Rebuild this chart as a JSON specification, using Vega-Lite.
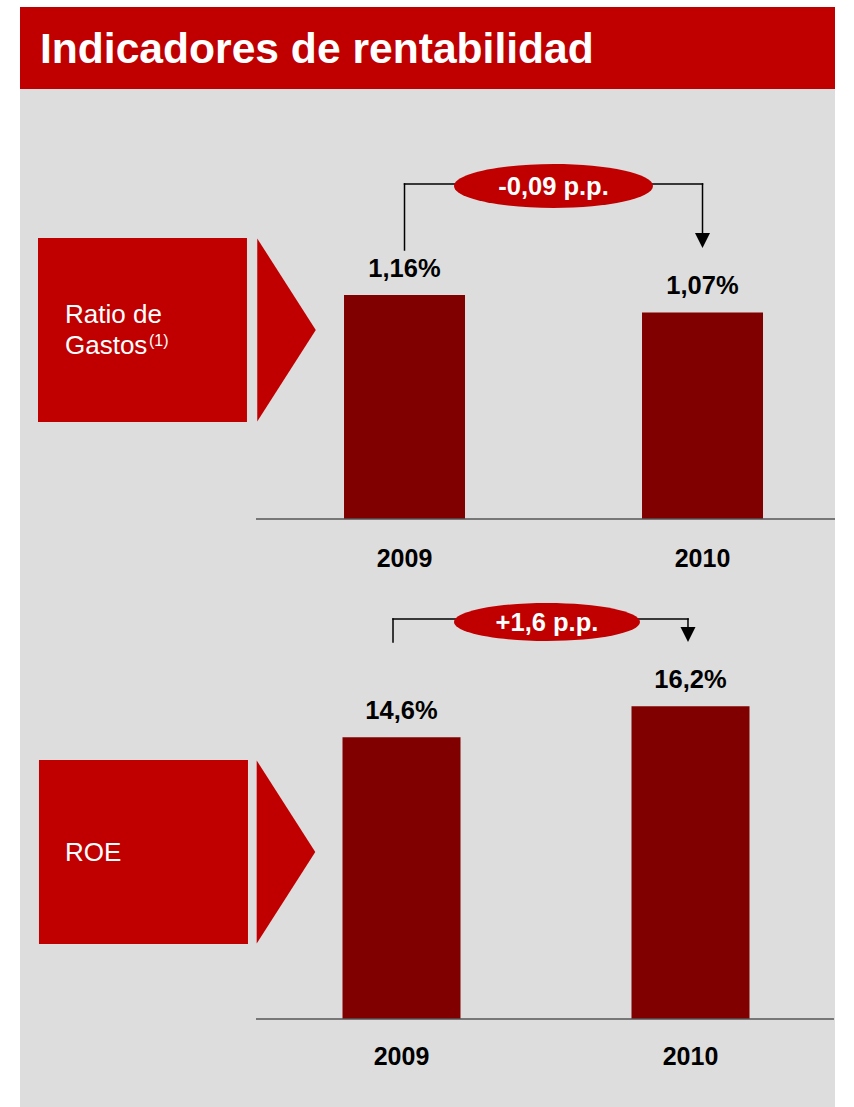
{
  "$schema": "https://vega.github.io/schema/vega-lite/v6.json",
  "background": "white",
  "padding": {"left": 20, "top": 7, "right": 19, "bottom": 0},
  "spacing": 0,
  "bounds": "flush",
  "config": {"view": {"stroke": null}, "font": "Liberation Sans", "text": {"font": "Liberation Sans"}, "scale": {"continuousPadding": 0}},
  "vconcat": [
    {
      "width": 815, "height": 82,
      "view": {"fill": "#c00000", "stroke": null},
      "data": {"values": [{"titulo": "Indicadores de rentabilidad"}]},
      "mark": {"type": "text", "align": "left", "baseline": "alphabetic", "fontSize": 42.6, "fontWeight": "bold", "color": "white"},
      "encoding": {
        "text": {"field": "titulo"},
        "x": {"datum": 0.0245, "type": "quantitative", "scale": {"domain": [0, 1], "nice": false, "zero": false}, "axis": null},
        "y": {"datum": 0.317, "type": "quantitative", "scale": {"domain": [0, 1], "nice": false, "zero": false}, "axis": null}
      }
    },
    {
      "width": 815, "height": 501,
      "view": {"fill": "#dddddd", "stroke": null},
      "data": {"values": [
        {"anio": 2009, "valor": 1.16, "texto": "1,16%"},
        {"anio": 2010, "valor": 1.07, "texto": "1,07%"}
      ]},
      "layer": [
        {
          "data": {"values": [{}]},
          "mark": {"type": "rect", "color": "#c00000"},
          "encoding": {
            "x": {"datum": 2007.7701, "type": "quantitative", "scale": {"domain": [2007.7097, 2010.4446], "nice": false, "zero": false, "padding": 0}, "axis": null},
            "x2": {"datum": 2008.4714},
            "y": {"datum": 1.456, "type": "quantitative", "scale": {"domain": [-0.3679, 2.228], "nice": false, "zero": false, "padding": 0}, "axis": null},
            "y2": {"datum": 0.5026}
          }
        },
        {
          "data": {"values": [{"linea": "Ratio de"}]},
          "mark": {"type": "text", "align": "left", "baseline": "alphabetic", "fontSize": 26, "color": "white"},
          "encoding": {
            "text": {"field": "linea"},
            "x": {"datum": 2007.8607, "type": "quantitative", "scale": {"domain": [2007.7097, 2010.4446], "nice": false, "zero": false, "padding": 0}, "axis": null},
            "y": {"datum": 1.0155, "type": "quantitative", "scale": {"domain": [-0.3679, 2.228], "nice": false, "zero": false, "padding": 0}, "axis": null}
          }
        },
        {
          "data": {"values": [{"linea": "Gastos"}]},
          "mark": {"type": "text", "align": "left", "baseline": "alphabetic", "fontSize": 26, "color": "white"},
          "encoding": {
            "text": {"field": "linea"},
            "x": {"datum": 2007.8607, "type": "quantitative", "scale": {"domain": [2007.7097, 2010.4446], "nice": false, "zero": false, "padding": 0}, "axis": null},
            "y": {"datum": 0.855, "type": "quantitative", "scale": {"domain": [-0.3679, 2.228], "nice": false, "zero": false, "padding": 0}, "axis": null}
          }
        },
        {
          "data": {"values": [{"nota": "(1)"}]},
          "mark": {"type": "text", "align": "left", "baseline": "alphabetic", "fontSize": 16, "color": "white"},
          "encoding": {
            "text": {"field": "nota"},
            "x": {"datum": 2008.1426, "type": "quantitative", "scale": {"domain": [2007.7097, 2010.4446], "nice": false, "zero": false, "padding": 0}, "axis": null},
            "y": {"datum": 0.8964, "type": "quantitative", "scale": {"domain": [-0.3679, 2.228], "nice": false, "zero": false, "padding": 0}, "axis": null}
          }
        },
        {
          "data": {"values": [{}]},
          "mark": {"type": "point", "shape": "M-0.32,-1L0.32,0L-0.32,1Z", "size": 33489, "filled": true, "color": "#c00000", "opacity": 1, "strokeWidth": 0},
          "encoding": {
            "x": {"datum": 2008.604, "type": "quantitative", "scale": {"domain": [2007.7097, 2010.4446], "nice": false, "zero": false, "padding": 0}, "axis": null},
            "y": {"datum": 0.9793, "type": "quantitative", "scale": {"domain": [-0.3679, 2.228], "nice": false, "zero": false, "padding": 0}, "axis": null}
          }
        },
        {
          "data": {"values": [{}]},
          "mark": {"type": "rule", "color": "black", "strokeWidth": 1.5, "strokeCap": "square"},
          "encoding": {
            "x": {"datum": 2009, "type": "quantitative", "scale": {"domain": [2007.7097, 2010.4446], "nice": false, "zero": false, "padding": 0}, "axis": null},
            "y": {"datum": 1.3938, "type": "quantitative", "scale": {"domain": [-0.3679, 2.228], "nice": false, "zero": false, "padding": 0}, "axis": null},
            "y2": {"datum": 1.7358}
          }
        },
        {
          "data": {"values": [{}]},
          "mark": {"type": "rule", "color": "black", "strokeWidth": 1.5, "strokeCap": "square"},
          "encoding": {
            "x": {"datum": 2009, "type": "quantitative", "scale": {"domain": [2007.7097, 2010.4446], "nice": false, "zero": false, "padding": 0}, "axis": null},
            "x2": {"datum": 2010},
            "y": {"datum": 1.7358, "type": "quantitative", "scale": {"domain": [-0.3679, 2.228], "nice": false, "zero": false, "padding": 0}, "axis": null}
          }
        },
        {
          "data": {"values": [{}]},
          "mark": {"type": "rule", "color": "black", "strokeWidth": 1.5, "strokeCap": "square"},
          "encoding": {
            "x": {"datum": 2010, "type": "quantitative", "scale": {"domain": [2007.7097, 2010.4446], "nice": false, "zero": false, "padding": 0}, "axis": null},
            "y": {"datum": 1.4456, "type": "quantitative", "scale": {"domain": [-0.3679, 2.228], "nice": false, "zero": false, "padding": 0}, "axis": null},
            "y2": {"datum": 1.7358}
          }
        },
        {
          "data": {"values": [{}]},
          "mark": {"type": "point", "shape": "M-1,-1L1,-1L0,1Z", "size": 225, "filled": true, "color": "black", "opacity": 1, "strokeWidth": 0},
          "encoding": {
            "x": {"datum": 2010, "type": "quantitative", "scale": {"domain": [2007.7097, 2010.4446], "nice": false, "zero": false, "padding": 0}, "axis": null},
            "y": {"datum": 1.443, "type": "quantitative", "scale": {"domain": [-0.3679, 2.228], "nice": false, "zero": false, "padding": 0}, "axis": null}
          }
        },
        {
          "data": {"values": [{}]},
          "mark": {"type": "point", "shape": "M-1,0C-1,-0.122 -0.552,-0.221 0,-0.221C0.552,-0.221 1,-0.122 1,0C1,0.122 0.552,0.221 0,0.221C-0.552,0.221 -1,0.122 -1,0Z", "size": 39601, "filled": true, "color": "#c00000", "opacity": 1, "strokeWidth": 0},
          "encoding": {
            "x": {"datum": 2009.5, "type": "quantitative", "scale": {"domain": [2007.7097, 2010.4446], "nice": false, "zero": false, "padding": 0}, "axis": null},
            "y": {"datum": 1.7254, "type": "quantitative", "scale": {"domain": [-0.3679, 2.228], "nice": false, "zero": false, "padding": 0}, "axis": null}
          }
        },
        {
          "data": {"values": [{"variacion": "-0,09 p.p."}]},
          "mark": {"type": "text", "align": "center", "baseline": "alphabetic", "fontSize": 25.5, "fontWeight": "bold", "color": "white"},
          "encoding": {
            "text": {"field": "variacion"},
            "x": {"datum": 2009.5, "type": "quantitative", "scale": {"domain": [2007.7097, 2010.4446], "nice": false, "zero": false, "padding": 0}, "axis": null},
            "y": {"datum": 1.6788, "type": "quantitative", "scale": {"domain": [-0.3679, 2.228], "nice": false, "zero": false, "padding": 0}, "axis": null}
          }
        },
        {
          "mark": {"type": "bar", "orient": "vertical", "width": 121, "color": "#800000"},
          "encoding": {
            "x": {"field": "anio", "type": "quantitative", "scale": {"domain": [2007.7097, 2010.4446], "nice": false, "zero": false, "padding": 0}, "axis": null},
            "y": {"field": "valor", "type": "quantitative", "scale": {"domain": [-0.3679, 2.228], "nice": false, "zero": false, "padding": 0}, "axis": null}
          }
        },
        {
          "mark": {"type": "text", "align": "center", "baseline": "alphabetic", "dy": -18, "fontSize": 25.5, "fontWeight": "bold", "color": "black"},
          "encoding": {
            "text": {"field": "texto"},
            "x": {"field": "anio", "type": "quantitative", "scale": {"domain": [2007.7097, 2010.4446], "nice": false, "zero": false, "padding": 0}, "axis": null},
            "y": {"field": "valor", "type": "quantitative", "scale": {"domain": [-0.3679, 2.228], "nice": false, "zero": false, "padding": 0}, "axis": null}
          }
        },
        {
          "mark": {"type": "text", "align": "center", "baseline": "alphabetic", "dy": 48, "fontSize": 25, "fontWeight": "bold", "color": "black"},
          "encoding": {
            "text": {"field": "anio", "type": "nominal"},
            "x": {"field": "anio", "type": "quantitative", "scale": {"domain": [2007.7097, 2010.4446], "nice": false, "zero": false, "padding": 0}, "axis": null},
            "y": {"datum": 0, "type": "quantitative", "scale": {"domain": [-0.3679, 2.228], "nice": false, "zero": false, "padding": 0}, "axis": null}
          }
        },
        {
          "data": {"values": [{}]},
          "mark": {"type": "rule", "color": "#555555", "strokeWidth": 1.5},
          "encoding": {
            "x": {"datum": 2008.5016, "type": "quantitative", "scale": {"domain": [2007.7097, 2010.4446], "nice": false, "zero": false, "padding": 0}, "axis": null},
            "x2": {"datum": 2010.4446},
            "y": {"datum": 0, "type": "quantitative", "scale": {"domain": [-0.3679, 2.228], "nice": false, "zero": false, "padding": 0}, "axis": null}
          }
        }
      ]
    },
    {
      "width": 815, "height": 517,
      "view": {"fill": "#dddddd", "stroke": null},
      "data": {"values": [
        {"anio": 2009, "valor": 14.6, "texto": "14,6%"},
        {"anio": 2010, "valor": 16.2, "texto": "16,2%"}
      ]},
      "layer": [
        {
          "data": {"values": [{}]},
          "mark": {"type": "rect", "color": "#c00000"},
          "encoding": {
            "x": {"datum": 2007.7456, "type": "quantitative", "scale": {"domain": [2007.6799, 2010.5], "nice": false, "zero": false, "padding": 0}, "axis": null},
            "x2": {"datum": 2008.4688},
            "y": {"datum": 13.42, "type": "quantitative", "scale": {"domain": [-4.5596, 22.228], "nice": false, "zero": false, "padding": 0}, "axis": null},
            "y2": {"datum": 3.886}
          }
        },
        {
          "data": {"values": [{"linea": "ROE"}]},
          "mark": {"type": "text", "align": "left", "baseline": "alphabetic", "fontSize": 26, "color": "white"},
          "encoding": {
            "text": {"field": "linea"},
            "x": {"datum": 2007.8356, "type": "quantitative", "scale": {"domain": [2007.6799, 2010.5], "nice": false, "zero": false, "padding": 0}, "axis": null},
            "y": {"datum": 8.187, "type": "quantitative", "scale": {"domain": [-4.5596, 22.228], "nice": false, "zero": false, "padding": 0}, "axis": null}
          }
        },
        {
          "data": {"values": [{}]},
          "mark": {"type": "point", "shape": "M-0.32,-1L0.32,0L-0.32,1Z", "size": 33489, "filled": true, "color": "#c00000", "opacity": 1, "strokeWidth": 0},
          "encoding": {
            "x": {"datum": 2008.6003, "type": "quantitative", "scale": {"domain": [2007.6799, 2010.5], "nice": false, "zero": false, "padding": 0}, "axis": null},
            "y": {"datum": 8.653, "type": "quantitative", "scale": {"domain": [-4.5596, 22.228], "nice": false, "zero": false, "padding": 0}, "axis": null}
          }
        },
        {
          "data": {"values": [{}]},
          "mark": {"type": "rule", "color": "black", "strokeWidth": 1.5, "strokeCap": "square"},
          "encoding": {
            "x": {"datum": 2008.9706, "type": "quantitative", "scale": {"domain": [2007.6799, 2010.5], "nice": false, "zero": false, "padding": 0}, "axis": null},
            "y": {"datum": 19.534, "type": "quantitative", "scale": {"domain": [-4.5596, 22.228], "nice": false, "zero": false, "padding": 0}, "axis": null},
            "y2": {"datum": 20.725}
          }
        },
        {
          "data": {"values": [{}]},
          "mark": {"type": "rule", "color": "black", "strokeWidth": 1.5, "strokeCap": "square"},
          "encoding": {
            "x": {"datum": 2008.9706, "type": "quantitative", "scale": {"domain": [2007.6799, 2010.5], "nice": false, "zero": false, "padding": 0}, "axis": null},
            "x2": {"datum": 2009.9913},
            "y": {"datum": 20.725, "type": "quantitative", "scale": {"domain": [-4.5596, 22.228], "nice": false, "zero": false, "padding": 0}, "axis": null}
          }
        },
        {
          "data": {"values": [{}]},
          "mark": {"type": "rule", "color": "black", "strokeWidth": 1.5, "strokeCap": "square"},
          "encoding": {
            "x": {"datum": 2009.9913, "type": "quantitative", "scale": {"domain": [2007.6799, 2010.5], "nice": false, "zero": false, "padding": 0}, "axis": null},
            "y": {"datum": 20.155, "type": "quantitative", "scale": {"domain": [-4.5596, 22.228], "nice": false, "zero": false, "padding": 0}, "axis": null},
            "y2": {"datum": 20.725}
          }
        },
        {
          "data": {"values": [{}]},
          "mark": {"type": "point", "shape": "M-1,-1L1,-1L0,1Z", "size": 225, "filled": true, "color": "black", "opacity": 1, "strokeWidth": 0},
          "encoding": {
            "x": {"datum": 2009.9913, "type": "quantitative", "scale": {"domain": [2007.6799, 2010.5], "nice": false, "zero": false, "padding": 0}, "axis": null},
            "y": {"datum": 19.922, "type": "quantitative", "scale": {"domain": [-4.5596, 22.228], "nice": false, "zero": false, "padding": 0}, "axis": null}
          }
        },
        {
          "data": {"values": [{}]},
          "mark": {"type": "point", "shape": "M-1,0C-1,-0.1127 -0.552,-0.204 0,-0.204C0.552,-0.204 1,-0.1127 1,0C1,0.1127 0.552,0.204 0,0.204C-0.552,0.204 -1,0.1127 -1,0Z", "size": 34596, "filled": true, "color": "#c00000", "opacity": 1, "strokeWidth": 0},
          "encoding": {
            "x": {"datum": 2009.5034, "type": "quantitative", "scale": {"domain": [2007.6799, 2010.5], "nice": false, "zero": false, "padding": 0}, "axis": null},
            "y": {"datum": 20.57, "type": "quantitative", "scale": {"domain": [-4.5596, 22.228], "nice": false, "zero": false, "padding": 0}, "axis": null}
          }
        },
        {
          "data": {"values": [{"variacion": "+1,6 p.p."}]},
          "mark": {"type": "text", "align": "center", "baseline": "alphabetic", "fontSize": 25.5, "fontWeight": "bold", "color": "white"},
          "encoding": {
            "text": {"field": "variacion"},
            "x": {"datum": 2009.5034, "type": "quantitative", "scale": {"domain": [2007.6799, 2010.5], "nice": false, "zero": false, "padding": 0}, "axis": null},
            "y": {"datum": 20.104, "type": "quantitative", "scale": {"domain": [-4.5596, 22.228], "nice": false, "zero": false, "padding": 0}, "axis": null}
          }
        },
        {
          "mark": {"type": "bar", "orient": "vertical", "width": 118, "color": "#800000"},
          "encoding": {
            "x": {"field": "anio", "type": "quantitative", "scale": {"domain": [2007.6799, 2010.5], "nice": false, "zero": false, "padding": 0}, "axis": null},
            "y": {"field": "valor", "type": "quantitative", "scale": {"domain": [-4.5596, 22.228], "nice": false, "zero": false, "padding": 0}, "axis": null}
          }
        },
        {
          "mark": {"type": "text", "align": "center", "baseline": "alphabetic", "dy": -18, "fontSize": 25.5, "fontWeight": "bold", "color": "black"},
          "encoding": {
            "text": {"field": "texto"},
            "x": {"field": "anio", "type": "quantitative", "scale": {"domain": [2007.6799, 2010.5], "nice": false, "zero": false, "padding": 0}, "axis": null},
            "y": {"field": "valor", "type": "quantitative", "scale": {"domain": [-4.5596, 22.228], "nice": false, "zero": false, "padding": 0}, "axis": null}
          }
        },
        {
          "mark": {"type": "text", "align": "center", "baseline": "alphabetic", "dy": 46, "fontSize": 25, "fontWeight": "bold", "color": "black"},
          "encoding": {
            "text": {"field": "anio", "type": "nominal"},
            "x": {"field": "anio", "type": "quantitative", "scale": {"domain": [2007.6799, 2010.5], "nice": false, "zero": false, "padding": 0}, "axis": null},
            "y": {"datum": 0, "type": "quantitative", "scale": {"domain": [-4.5596, 22.228], "nice": false, "zero": false, "padding": 0}, "axis": null}
          }
        },
        {
          "data": {"values": [{}]},
          "mark": {"type": "rule", "color": "#555555", "strokeWidth": 1.5},
          "encoding": {
            "x": {"datum": 2008.4965, "type": "quantitative", "scale": {"domain": [2007.6799, 2010.5], "nice": false, "zero": false, "padding": 0}, "axis": null},
            "x2": {"datum": 2010.4965},
            "y": {"datum": 0, "type": "quantitative", "scale": {"domain": [-4.5596, 22.228], "nice": false, "zero": false, "padding": 0}, "axis": null}
          }
        }
      ]
    }
  ]
}
